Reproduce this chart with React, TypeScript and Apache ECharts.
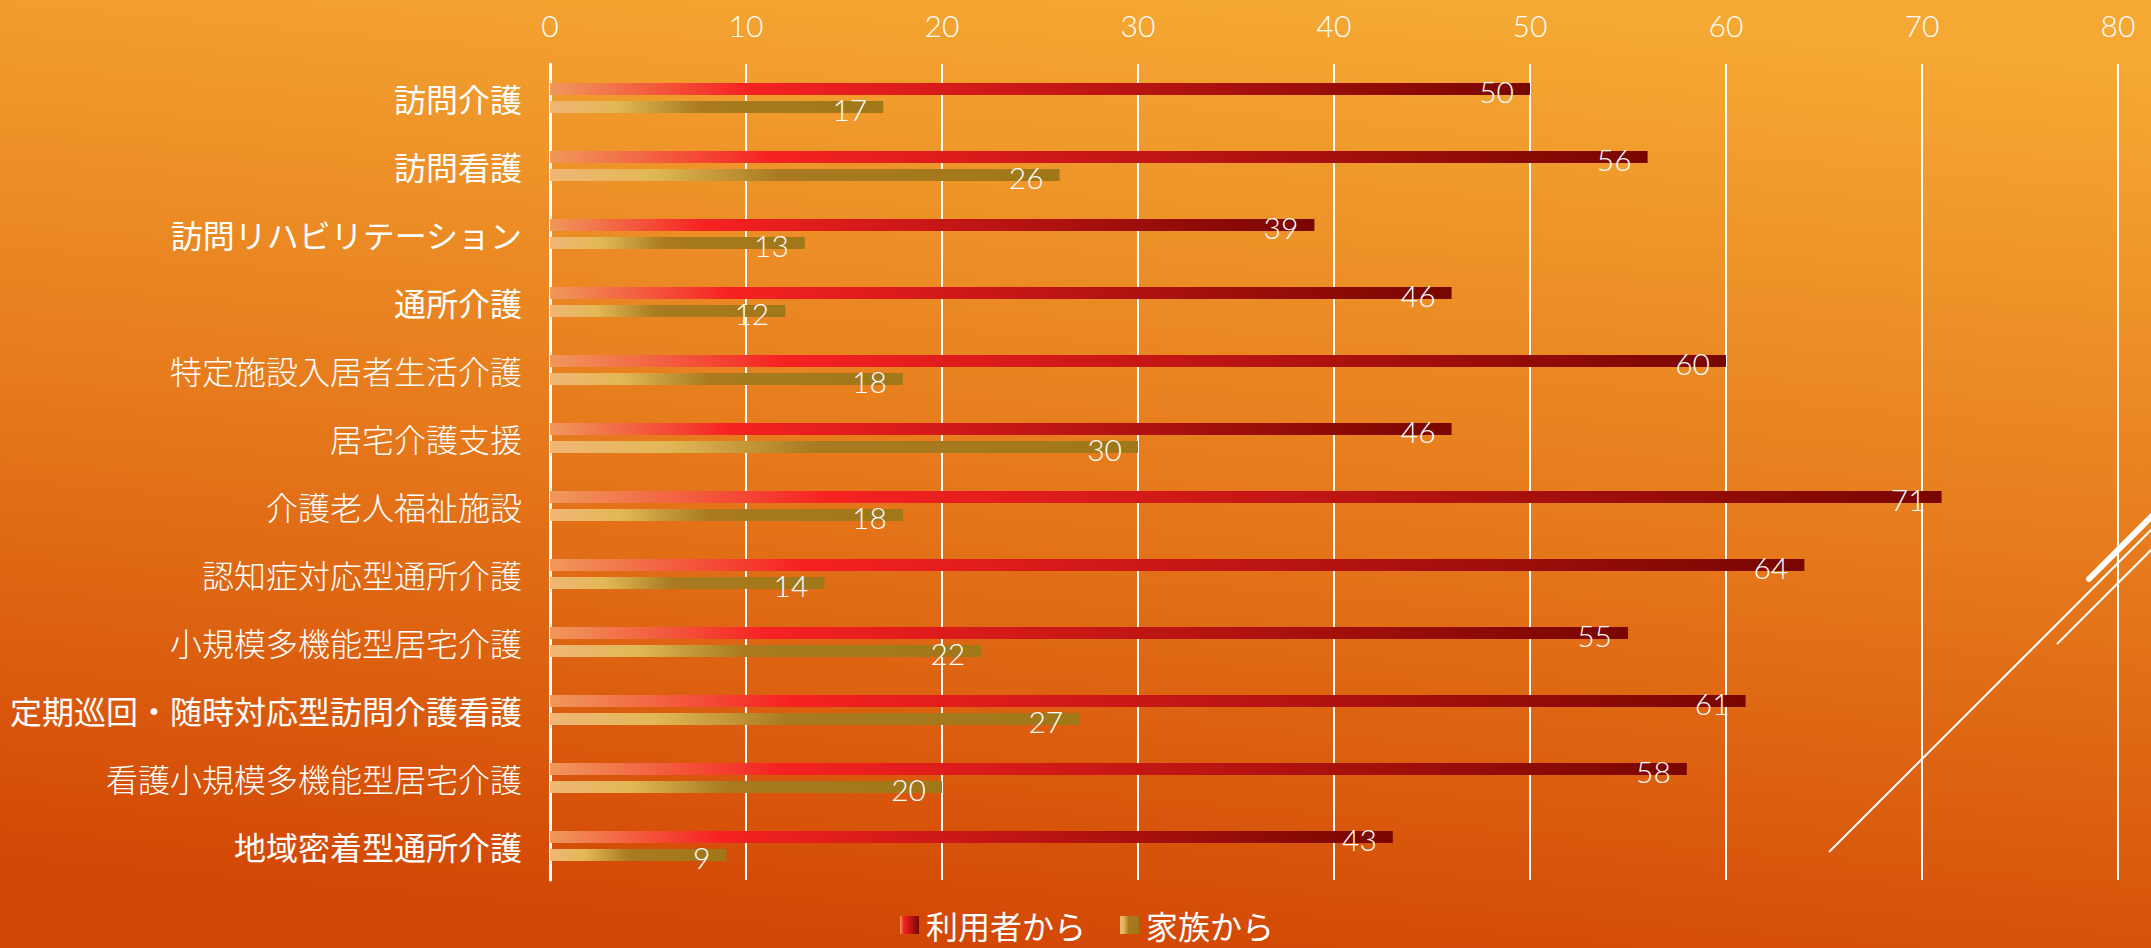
import React, { useEffect, useRef } from "react";
import * as echarts from "echarts";

const categories = [
  "訪問介護",
  "訪問看護",
  "訪問リハビリテーション",
  "通所介護",
  "特定施設入居者生活介護",
  "居宅介護支援",
  "介護老人福祉施設",
  "認知症対応型通所介護",
  "小規模多機能型居宅介護",
  "定期巡回・随時対応型訪問介護看護",
  "看護小規模多機能型居宅介護",
  "地域密着型通所介護",
];
const heavyLabels = [0, 1, 2, 3, 9, 11];
const seriesNames = ["利用者から", "家族から"];
const fromUsers = [50, 56, 39, 46, 60, 46, 71, 64, 55, 61, 58, 43];
const fromFamily = [17, 26, 13, 12, 18, 30, 18, 14, 22, 27, 20, 9];
const xTicks = { min: 0, max: 80, interval: 10 };

const NUM_FONT = "'Lato', 'Noto Sans CJK JP', sans-serif";
const JP_FONT = "'Noto Sans CJK JP', sans-serif";

export default function App() {
  const ref = useRef<HTMLDivElement>(null);
  useEffect(() => {
    if (!ref.current) return;
    const chart = echarts.init(ref.current, null, { renderer: "svg" });
    const G = echarts.graphic.LinearGradient;
    const redGrad = new G(0, 0, 1, 0, [
      { offset: 0, color: "#F0985C" },
      { offset: 0.2, color: "#F62222" },
      { offset: 1, color: "#780600" },
    ]);
    const goldGrad = new G(0, 0, 1, 0, [
      { offset: 0, color: "#F0B676" },
      { offset: 0.2, color: "#E2B855" },
      { offset: 0.45, color: "#A97A20" },
      { offset: 1, color: "#A07818" },
    ]);
    const label = {
      show: true,
      position: "insideRight",
      distance: 16,
      offset: [0, 2],
      color: "#fff",
      fontSize: 30,
      fontFamily: NUM_FONT,
      fontWeight: 300,
    };
    chart.setOption({
      animation: false,
      backgroundColor: new G(0.6, 0, 0.4, 1, [
        { offset: 0, color: "#F5A833" },
        { offset: 0.5, color: "#E67A1C" },
        { offset: 1, color: "#D24604" },
      ]),
      grid: { left: 550, right: 33, top: 64, bottom: 68, containLabel: false },
      xAxis: {
        type: "value",
        position: "top",
        min: xTicks.min,
        max: xTicks.max,
        interval: xTicks.interval,
        axisLine: { show: false },
        axisTick: { show: false },
        axisLabel: {
          color: "#fff",
          fontSize: 30,
          fontFamily: NUM_FONT,
          fontWeight: 300,
          margin: 24,
        },
        splitLine: { show: true, lineStyle: { color: "#fff", width: 2 } },
      },
      yAxis: {
        type: "category",
        inverse: true,
        data: categories,
        axisLine: { show: true, lineStyle: { color: "#fff", width: 3 } },
        axisTick: { show: false },
        axisLabel: {
          margin: 28,
          formatter: (v: string, i: number) =>
            heavyLabels.indexOf(i) >= 0 ? `{h|${v}}` : `{l|${v}}`,
          rich: {
            h: { color: "#fff", fontSize: 32, fontFamily: JP_FONT, fontWeight: "normal" },
            l: { color: "#fff", fontSize: 32, fontFamily: JP_FONT, fontWeight: 300 },
          },
        },
        splitLine: { show: false },
      },
      legend: {
        top: 904,
        left: 895,
        icon: "rect",
        itemWidth: 19,
        itemHeight: 18,
        itemGap: 34,
        textStyle: { color: "#fff", fontSize: 32, fontFamily: JP_FONT, padding: [0, 0, 0, 2] },
        data: seriesNames,
      },
      series: [
        {
          name: seriesNames[0],
          type: "bar",
          data: fromUsers,
          barWidth: 12,
          barGap: "50%",
          itemStyle: { color: redGrad },
          label,
        },
        {
          name: seriesNames[1],
          type: "bar",
          data: fromFamily,
          barWidth: 12,
          barGap: "50%",
          itemStyle: { color: goldGrad },
          label,
        },
      ],
      graphic: [
        {
          type: "line",
          silent: true,
          shape: { x1: 1829, y1: 852, x2: 2180, y2: 501 },
          style: { stroke: "#fff", lineWidth: 2 },
        },
        {
          type: "line",
          silent: true,
          shape: { x1: 2057, y1: 644, x2: 2180, y2: 521 },
          style: { stroke: "#fff", lineWidth: 2 },
        },
        {
          type: "line",
          silent: true,
          shape: { x1: 2089, y1: 579, x2: 2180, y2: 488 },
          style: { stroke: "#fff", lineWidth: 6, lineCap: "round" },
        },
      ],
    });
    return () => chart.dispose();
  }, []);
  return (
    <div
      ref={ref}
      style={{ position: "fixed", left: 0, top: 0, width: 2151, height: 948 }}
    />
  );
}
